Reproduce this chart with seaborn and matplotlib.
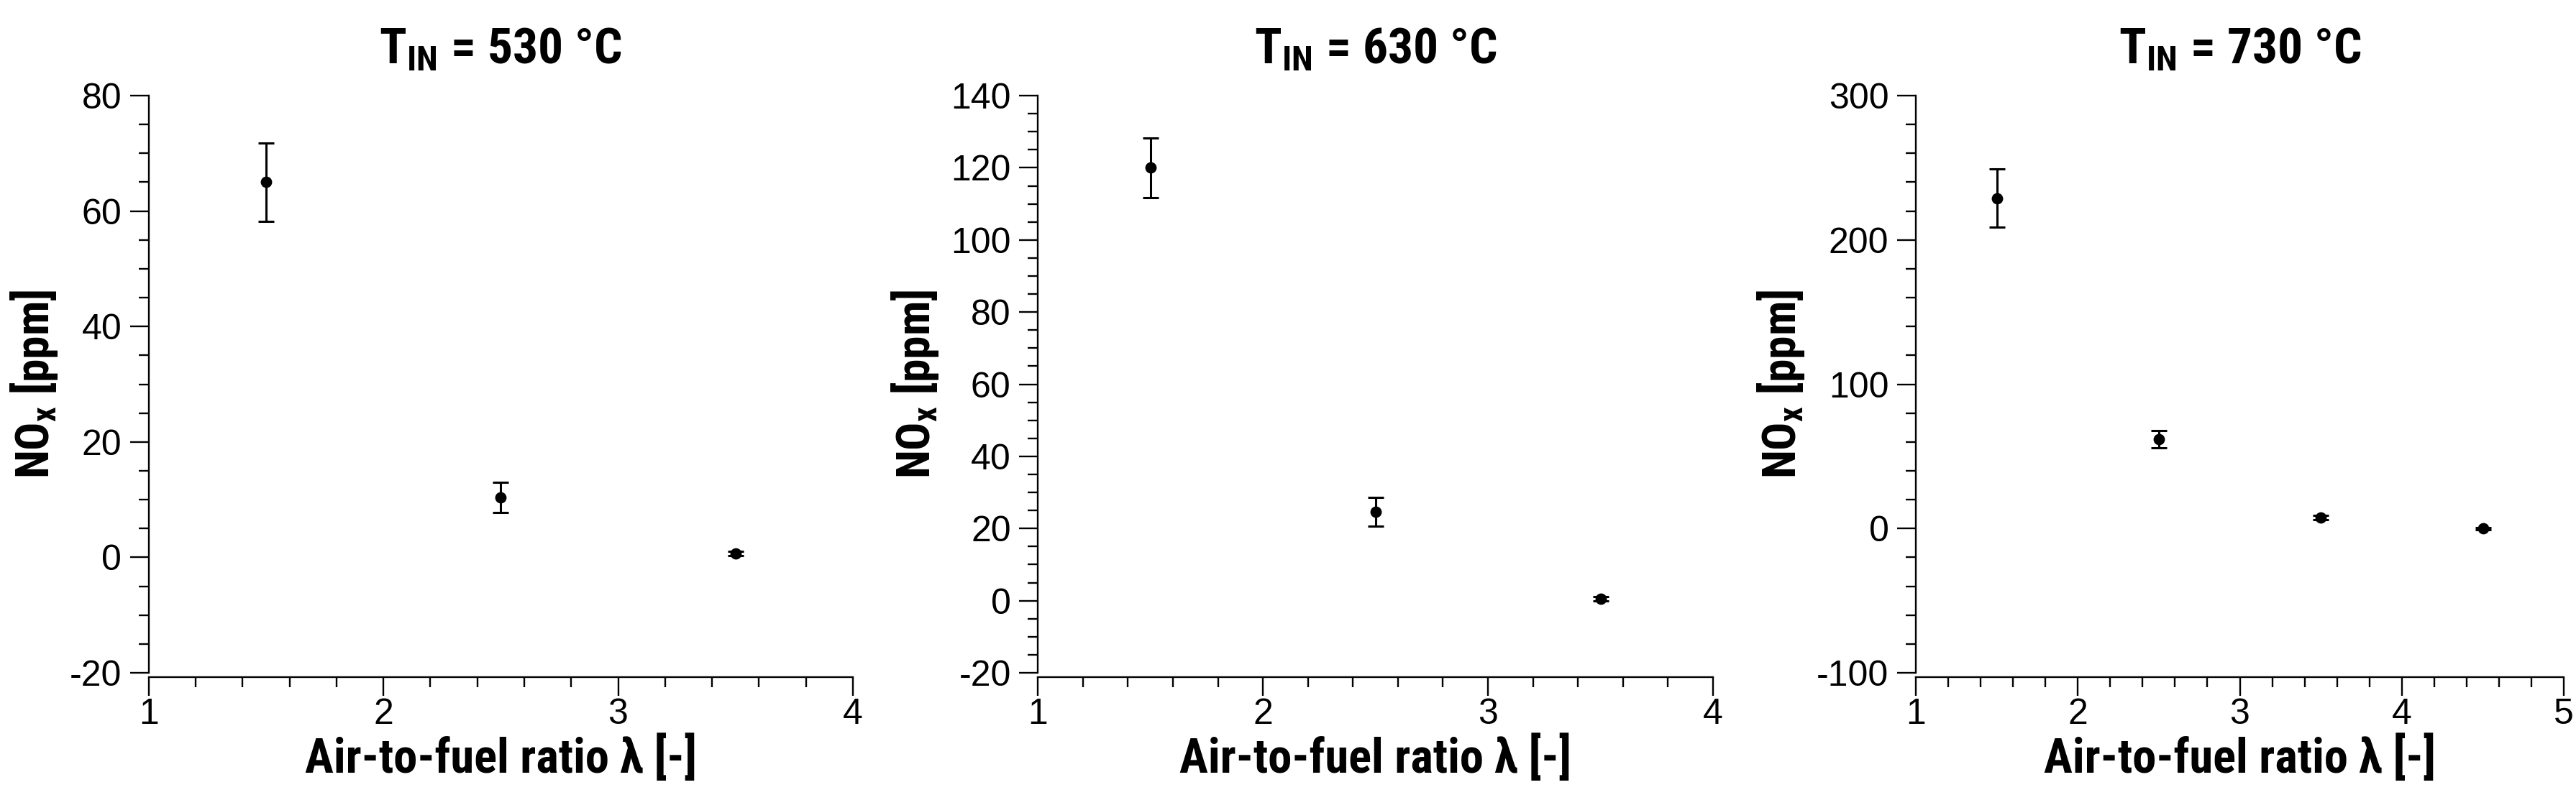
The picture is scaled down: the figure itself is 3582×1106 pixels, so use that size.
import numpy as np
import pandas as pd
import matplotlib
matplotlib.use("Agg")
import matplotlib.pyplot as plt
from matplotlib.ticker import MultipleLocator
import seaborn as sns

# data (lambda, NOx ppm, error half-width)
temps = [530, 630, 730]

lam_530 = [1.5, 2.5, 3.5]
nox_530 = [65.0, 10.4, 0.7]
err_530 = [6.8, 2.6, 0.4]

lam_630 = [1.5, 2.5, 3.5]
nox_630 = [120.0, 24.7, 0.5]
err_630 = [8.3, 4.0, 0.6]

lam_730 = [1.5, 2.5, 3.5, 4.5]
nox_730 = [229.0, 62.0, 7.4, 0.0]
err_730 = [20.0, 6.0, 1.5, 0.8]

xlims = [(1, 4), (1, 4), (1, 5)]
ylims = [(-20, 80), (-20, 140), (-100, 300)]
ymajor = [20, 20, 100]
yminor = [5, 5, 20]

sns.set_theme(style="ticks")
plt.rcParams["font.family"] = ["Liberation Sans", "DejaVu Sans"]
plt.rcParams["axes.unicode_minus"] = False
plt.rcParams["text.color"] = "black"
plt.rcParams["axes.labelcolor"] = "black"
plt.rcParams["mathtext.fontset"] = "custom"
plt.rcParams["mathtext.rm"] = "Roboto Condensed"
plt.rcParams["mathtext.bf"] = "Roboto Condensed:bold"
plt.rcParams["axes.linewidth"] = 1.7

bold = dict(family=["Roboto Condensed", "Archivo Narrow", "Liberation Sans", "DejaVu Sans"],
            weight="bold", color="black")

fig = plt.figure(figsize=(35.82, 11.06), dpi=100)
boxes = [
    [0.0577, 0.1537, 0.2734, 0.726],
    [0.4029, 0.1537, 0.2621, 0.726],
    [0.7437, 0.1537, 0.2516, 0.726],
]

datasets = [
    (lam_530, nox_530, err_530),
    (lam_630, nox_630, err_630),
    (lam_730, nox_730, err_730),
]

for i, (lam, nox, err) in enumerate(datasets):
    ax = fig.add_axes(boxes[i])
    df = pd.DataFrame({"lam": lam, "nox": nox, "err": err})
    ax.errorbar(df["lam"], df["nox"], yerr=df["err"], fmt="none",
                ecolor="black", elinewidth=2.2, capsize=8, capthick=2.2, zorder=2)
    sns.scatterplot(data=df, x="lam", y="nox", ax=ax, color="black",
                    s=130, edgecolor="black", linewidth=0, zorder=3, legend=False)

    ax.set_xlim(*xlims[i])
    ax.set_ylim(*ylims[i])
    ax.xaxis.set_major_locator(MultipleLocator(1))
    ax.xaxis.set_minor_locator(MultipleLocator(0.2))
    ax.yaxis.set_major_locator(MultipleLocator(ymajor[i]))
    ax.yaxis.set_minor_locator(MultipleLocator(yminor[i]))

    sns.despine(ax=ax)
    ax.spines["bottom"].set_position(("outward", 4))
    for sp in ax.spines.values():
        sp.set_color("black")

    ax.tick_params(which="major", direction="out", length=19, width=1.7,
                   labelsize=36, color="black", labelcolor="black")
    ax.tick_params(which="minor", direction="out", length=10, width=1.7,
                   color="black")
    ax.tick_params(axis="y", which="major", pad=8)
    ax.tick_params(axis="x", which="major", pad=2)

    ax.set_xlabel("Air-to-fuel ratio λ [-]", fontsize=48, labelpad=4, **bold)
    ax.set_ylabel(r"$\mathbf{NO_x}$ [ppm]", fontsize=47, labelpad=10, **bold)
    ax.set_title(r"$\mathbf{T_{IN}}$ = %d °C" % temps[i], fontsize=50, pad=32, **bold)

fig.savefig("out.png", dpi=100)
